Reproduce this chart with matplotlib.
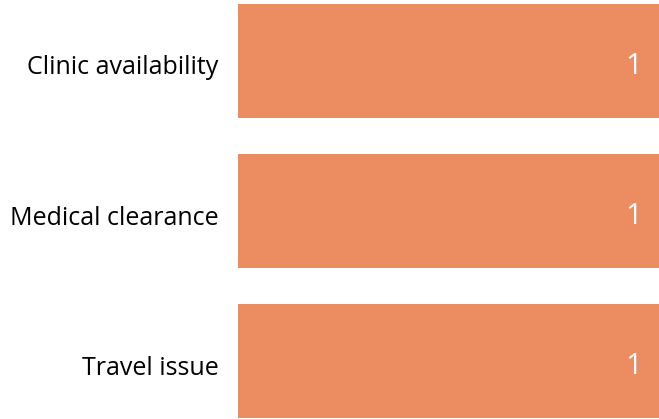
import matplotlib
matplotlib.use("Agg")
import matplotlib.pyplot as plt
import matplotlib.transforms as mtransforms

categories = ["Clinic availability", "Medical clearance", "Travel issue"]
counts = [1, 1, 1]

BAR_COLOR = "#EB8C61"
W, H = 659, 419

plt.rcParams['font.family'] = ['Open Sans', 'DejaVu Sans']

fig = plt.figure(figsize=(W / 100, H / 100), dpi=100)
ax = fig.add_axes([238 / W, 1 / H, 1 - 238 / W, (418 - 4) / H])

ypos = list(range(len(categories)))
bar_h = 0.76
ax.barh(ypos, counts, height=bar_h, color=BAR_COLOR, edgecolor="none")

ax.set_xlim(0, max(counts))
ax.set_ylim(len(categories) - 1 + bar_h / 2, -bar_h / 2)

for y, v in zip(ypos, counts):
    ax.annotate(str(v), xy=(v, y), xytext=(-12, -4), textcoords="offset points",
                ha="right", va="center", color="white", fontsize=21)

ax.set_yticks(ypos)
ax.set_yticklabels(categories, fontsize=18)
ax.tick_params(axis="y", length=0, pad=14)
shift = mtransforms.ScaledTranslation(0, -4 / 100, fig.dpi_scale_trans)
for lbl in ax.get_yticklabels():
    lbl.set_transform(lbl.get_transform() + shift)
ax.set_xticks([])
for s in ax.spines.values():
    s.set_visible(False)

fig.savefig("out.png", dpi=100)
